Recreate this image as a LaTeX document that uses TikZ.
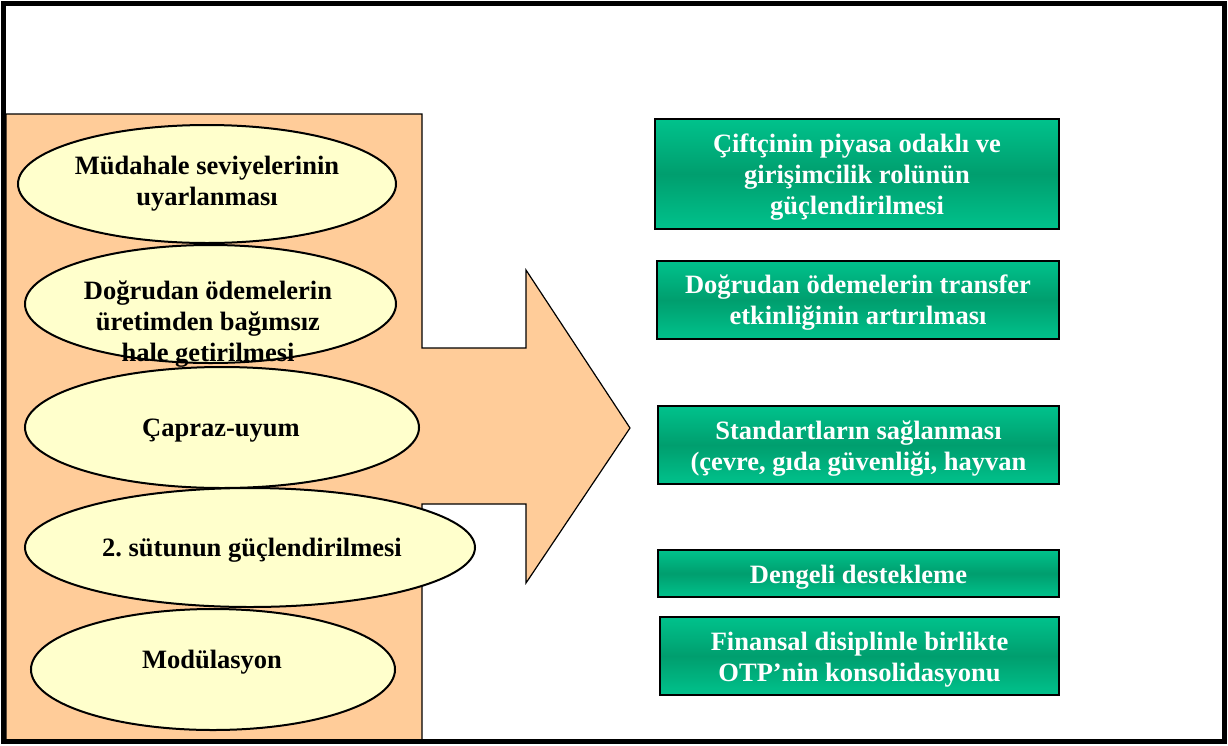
\documentclass[tikz,border=0pt]{standalone}
\usepackage{fontspec}
\setmainfont{Liberation Serif}
\usetikzlibrary{shapes.geometric}
\definecolor{peach}{HTML}{FFCC99}
\definecolor{cream}{HTML}{FFFFCC}
\definecolor{gLight}{HTML}{00C28C}
\definecolor{gDark}{HTML}{009E6E}
\begin{document}
\begin{tikzpicture}[x=1pt,y=-1pt,
  txt/.style={font=\fontsize{26.5}{31}\selectfont\bfseries, align=center, inner sep=0pt},
  wtxt/.style={txt, text=white},
  oval/.style={ellipse, draw=black, line width=2pt, fill=cream, inner sep=0pt},
  gbox/.style={rectangle, draw=black, line width=1.6pt, top color=gLight, bottom color=gLight, middle color=gDark, inner sep=0pt}
]
\useasboundingbox (0,0) rectangle (1228,745);
\fill[white] (0,0) rectangle (1228,745);
% orange block arrow
\draw[fill=peach, line width=1.2pt] (6,114) -- (422,114) -- (422,348) -- (526,348) -- (526,270) -- (630,428) -- (526,583) -- (526,504) -- (422,504) -- (422,740) -- (6,740) -- cycle;
% ellipses
\node[oval, minimum width=378pt, minimum height=118pt] (e1) at (207,184) {};
\node[oval, minimum width=371pt, minimum height=118pt] (e2) at (210.5,304) {};
\node[oval, minimum width=394pt, minimum height=121pt] (e3) at (222,427.5) {};
\node[oval, minimum width=450pt, minimum height=119pt] (e4) at (250,547.5) {};
\node[oval, minimum width=364pt, minimum height=121pt] (e5) at (213,669.5) {};
% ellipse texts
\node[txt] (t1) at (207,184) {Müdahale seviyelerinin\\uyarlanması};
\node[txt] (t2) at (208,324) {Doğrudan ödemelerin\\üretimden bağımsız\\hale getirilmesi};
\node[txt] (t3) at (221,431) {Çapraz-uyum};
\node[txt] (t4) at (252,550) {2.\ sütunun güçlendirilmesi};
\node[txt] (t5) at (212,662) {Modülasyon};
% green boxes
\node[gbox, minimum width=404pt, minimum height=110pt] (g1) at (857,174) {};
\node[gbox, minimum width=402pt, minimum height=78pt] (g2) at (858,300) {};
\node[gbox, minimum width=401pt, minimum height=78pt] (g3) at (858.5,445) {};
\node[gbox, minimum width=401pt, minimum height=47pt] (g4) at (858.5,573.5) {};
\node[gbox, minimum width=399pt, minimum height=78pt] (g5) at (859.5,656) {};
\node[wtxt] (l1) at ([yshift=-3pt]g1.center) {Çiftçinin piyasa odaklı ve\\girişimcilik rolünün\\güçlendirilmesi};
\node[wtxt] (l2) at ([yshift=-2.5pt]g2.center) {Doğrudan ödemelerin transfer\\etkinliğinin artırılması};
\node[wtxt] (l3) at ([yshift=-4pt]g3.center) {Standartların sağlanması\\(çevre, gıda güvenliği, hayvan};
\node[wtxt] (l4) at ([yshift=-4pt]g4.center) {Dengeli destekleme};
\node[wtxt] (l5) at ([yshift=-4pt]g5.center) {Finansal disiplinle birlikte\\OTP’nin konsolidasyonu};
% outer frame
\draw[line width=5pt] (3.5,3.5) rectangle (1224.5,741.5);
\end{tikzpicture}
\end{document}
